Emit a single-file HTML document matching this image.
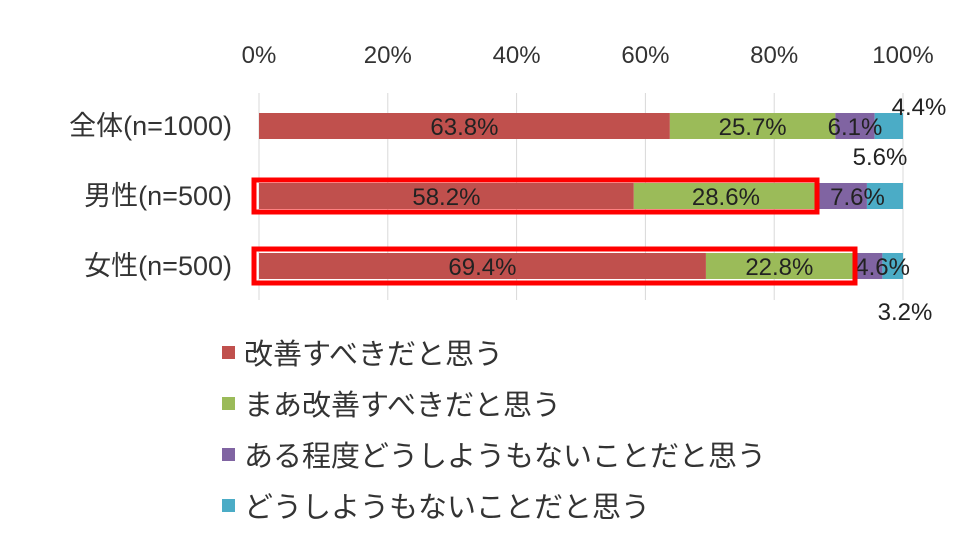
<!DOCTYPE html>
<html><head><meta charset="utf-8"><style>
body{margin:0;background:#fff;}
svg text{font-family:"Liberation Sans","Noto Sans CJK JP",sans-serif;}
</style></head><body>
<svg width="980" height="553" viewBox="0 0 980 553">
<g id="grid"></g>
<g id="ticks"></g>
<g id="bars"></g>
<g id="labels"></g>
<g id="cats"></g>
<g id="legend"></g>
<rect x="254" y="180" width="563" height="32" fill="none" stroke="#f00" stroke-width="5"/>
<rect x="254" y="249" width="601" height="34" fill="none" stroke="#f00" stroke-width="5"/>
</svg>
<script>
const categories=["全体(n=1000)","男性(n=500)","女性(n=500)"];
const s1=[63.8,58.2,69.4];
const s2=[25.7,28.6,22.8];
const s3=[6.1,7.6,4.6];
const s4=[4.4,5.6,3.2];
const tickLabels=["0%","20%","40%","60%","80%","100%"];
const seriesNames=["改善すべきだと思う","まあ改善すべきだと思う","ある程度どうしようもないことだと思う","どうしようもないことだと思う"];
const colors=["#C0504D","#9BBB59","#8064A2","#4BACC6"];
const NS="http://www.w3.org/2000/svg";
const x0=259,x1=903;
const xs=v=>x0+(x1-x0)*v/100;
const rowY=[113,183,253], barH=26;
function mk(t,a,p){const e=document.createElementNS(NS,t);for(const k in a)e.setAttribute(k,a[k]);p.appendChild(e);return e;}
const grid=document.getElementById('grid'),ticks=document.getElementById('ticks');
tickLabels.forEach((t,i)=>{const x=xs(i*20);
 const l=mk('line',{x1:x,x2:x,y1:93,y2:300,stroke:'#d9d9d9','stroke-width':1},grid);
 
 
 const tx=mk('text',{x:x,y:63,'text-anchor':'middle','font-size':24,fill:'#333'},ticks);tx.textContent=t;
 
 
});
const bars=document.getElementById('bars'),labels=document.getElementById('labels'),cats=document.getElementById('cats');
const series=[s1,s2,s3,s4];
categories.forEach((c,i)=>{
 const y=rowY[i];
 const ct=mk('text',{x:232,y:y+barH/2+9,'text-anchor':'end','font-size':27,fill:'#333'},cats);ct.textContent=c;
 
 
 let acc=0;
 series.forEach((s,j)=>{
  const v=s[i];const xa=xs(acc),xb=xs(acc+v);
  const r=mk('rect',{x:xa,y:y,width:xb-xa,height:barH,fill:colors[j]},bars);
  
  
  let lx=(xa+xb)/2,ly=y+barH/2+9;
  if(j===2&&i>0){lx+=15;}
  if(j===3){ if(i===0){lx=xb+16;ly=y+2;} else if(i===1){lx=xb-23;ly=y-18;} else {lx=xb+2;ly=y+barH+41;} }
  const t=mk('text',{x:lx,y:ly,'text-anchor':'middle','font-size':24,fill:'#222'},labels);t.textContent=v.toFixed(1)+'%';
  
  
  acc+=v;
 });
});
const lg=document.getElementById('legend');
seriesNames.forEach((n,j)=>{const y=353+j*51;
 const r=mk('rect',{x:222,y:y-7,width:13,height:13,fill:colors[j]},lg);
 
 
 const t=mk('text',{x:244,y:y+11,'font-size':29,fill:'#333'},lg);t.textContent=n;
 
 
});
</script>
</body></html>
